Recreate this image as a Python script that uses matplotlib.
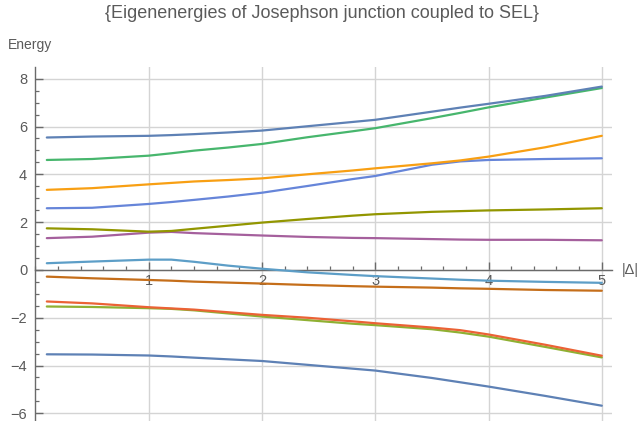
#!/usr/bin/env python3
# Eigenenergies of the Josephson junction coupled to the SEL vs |Delta|
# Mathematica-like look: axes through the origin, grid at major ticks.

import numpy as np
import matplotlib.pyplot as plt
from matplotlib.ticker import MultipleLocator

DELTA = [0.1, 0.5, 1.0, 1.2, 1.4, 1.7, 2.0, 2.4, 2.8, 3.0, 3.5, 3.75, 4.0, 4.5, 5.0]

E1  = [-3.53, -3.54, -3.58, -3.62, -3.67, -3.74, -3.81, -3.97, -4.13, -4.21, -4.52, -4.70, -4.88, -5.27, -5.68]
E3  = [-1.53, -1.55, -1.60, -1.63, -1.69, -1.82, -1.95, -2.10, -2.25, -2.31, -2.48, -2.62, -2.79, -3.22, -3.66]
E4  = [-1.32, -1.40, -1.56, -1.61, -1.66, -1.77, -1.88, -2.00, -2.15, -2.23, -2.41, -2.52, -2.70, -3.13, -3.59]
E6  = [-0.28, -0.35, -0.42, -0.45, -0.49, -0.53, -0.57, -0.63, -0.68, -0.70, -0.74, -0.77, -0.79, -0.84, -0.87]
E7  = [0.28, 0.35, 0.43, 0.43, 0.34, 0.18, 0.05, -0.10, -0.21, -0.26, -0.36, -0.41, -0.45, -0.50, -0.54]
E9  = [1.33, 1.39, 1.56, 1.59, 1.54, 1.49, 1.44, 1.38, 1.34, 1.33, 1.29, 1.27, 1.26, 1.26, 1.24]
E10 = [1.74, 1.70, 1.60, 1.63, 1.72, 1.85, 1.98, 2.13, 2.27, 2.33, 2.43, 2.46, 2.49, 2.53, 2.58]
E12 = [2.58, 2.60, 2.76, 2.84, 2.93, 3.07, 3.23, 3.51, 3.80, 3.93, 4.40, 4.54, 4.60, 4.64, 4.67]
E13 = [3.35, 3.42, 3.58, 3.64, 3.70, 3.76, 3.83, 4.00, 4.16, 4.25, 4.46, 4.58, 4.74, 5.13, 5.61]
E15 = [4.60, 4.64, 4.78, 4.88, 4.99, 5.12, 5.27, 5.55, 5.80, 5.93, 6.35, 6.57, 6.80, 7.21, 7.61]
E16 = [5.54, 5.58, 5.61, 5.64, 5.68, 5.75, 5.83, 6.01, 6.19, 6.28, 6.62, 6.79, 6.95, 7.28, 7.67]

# (levels, colour) in drawing order -- later curves sit on top
CURVES = [
    (E1,  "#5E81B5"),
    (E3,  "#8FB032"),
    (E4,  "#EB6235"),
    (E6,  "#C56E1A"),
    (E7,  "#5D9EC7"),
    (E9,  "#A5609D"),
    (E10, "#929600"),
    (E12, "#6685D9"),
    (E13, "#F89F13"),
    (E15, "#47B66D"),
    (E16, "#5E81B5"),
]

TITLE = "{Eigenenergies of Josephson junction coupled to SEL}"
AXIS_COLOR = "#6a6a6a"
TEXT_COLOR = "#5a5a5a"
GRID_COLOR = "#d4d4d4"


def main():
    plt.rcParams["font.family"] = ["Liberation Sans", "DejaVu Sans"]

    fig = plt.figure(figsize=(6.44, 4.21), dpi=100)
    ax = fig.add_axes([0.0551, 0.0, 0.8952, 0.8409])

    for levels, color in CURVES:
        ax.plot(DELTA, levels, color=color, linewidth=1.6,
                solid_capstyle="round", solid_joinstyle="round", zorder=3)

    ax.set_xlim(0, 5.09)
    ax.set_ylim(-6.32, 8.49)

    # axes crossing at the origin
    ax.spines["left"].set_position(("data", 0))
    ax.spines["bottom"].set_position(("data", 0))
    ax.spines["top"].set_visible(False)
    ax.spines["right"].set_visible(False)
    for side in ("left", "bottom"):
        ax.spines[side].set_color(AXIS_COLOR)
        ax.spines[side].set_linewidth(1.0)
        ax.spines[side].set_zorder(2)

    ax.xaxis.set_major_locator(MultipleLocator(1))
    ax.xaxis.set_minor_locator(MultipleLocator(0.2))
    ax.yaxis.set_major_locator(MultipleLocator(2))
    ax.yaxis.set_minor_locator(MultipleLocator(0.5))
    ax.set_xticks([1, 2, 3, 4, 5])

    ax.tick_params(which="both", direction="in", color=AXIS_COLOR,
                   labelcolor=TEXT_COLOR, labelsize=10.5)
    ax.tick_params(which="major", length=5.5, width=1.0)
    ax.tick_params(which="minor", length=3.2, width=0.9)
    ax.tick_params(axis="x", pad=3)
    ax.tick_params(axis="y", pad=6)

    ax.grid(True, which="major", color=GRID_COLOR, linewidth=1.0, zorder=0)
    ax.set_axisbelow(True)

    fig.text(0.5, 1 - 13 / 421, TITLE, ha="center", va="center",
             fontsize=13, color=TEXT_COLOR)
    fig.text(8 / 644, 1 - 45 / 421, "Energy", ha="left", va="center",
             fontsize=10, color=TEXT_COLOR)
    fig.text(622 / 644, 1 - 270 / 421, "|Δ|", ha="left", va="center",
             fontsize=10.5, color=TEXT_COLOR)

    fig.savefig("out.png", dpi=100)
    plt.close(fig)


if __name__ == "__main__":
    main()
